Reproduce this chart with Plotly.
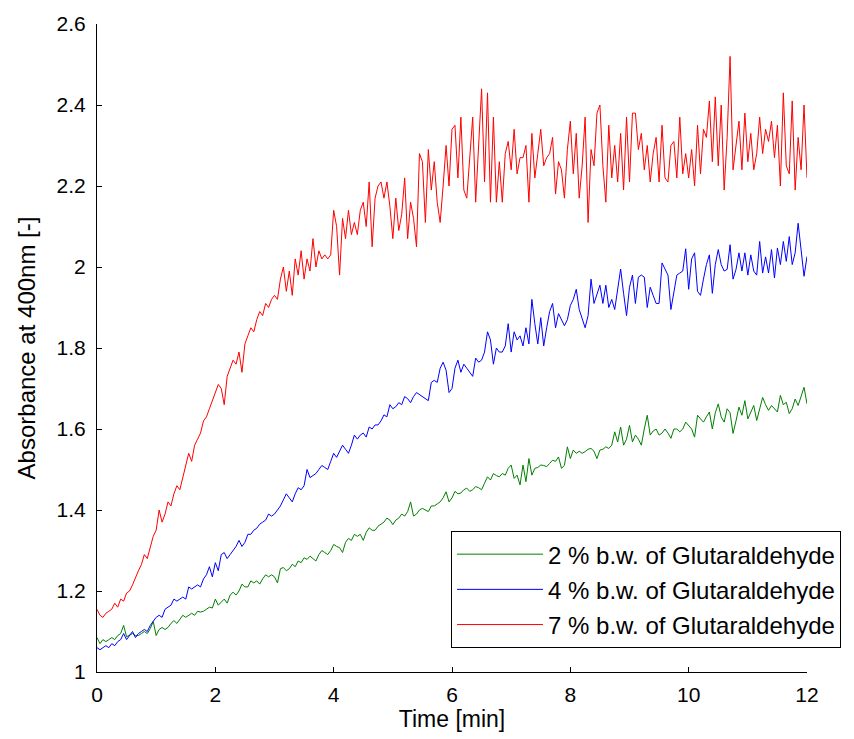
import numpy as np
import plotly.graph_objects as go

# Sampling: one reading every 0.05 min from 0 to 12 min
step_min = 0.05

series_names = [
    "2 % b.w. of Glutaraldehyde",
    "4 % b.w. of Glutaraldehyde",
    "7 % b.w. of Glutaraldehyde",
]
series_colors = ["#008000", "#0000FF", "#FF0000"]

absorbance_2pct = [
    1.085, 1.07, 1.08, 1.075, 1.08, 1.085, 1.08, 1.09, 1.095, 1.115, 1.087, 1.09, 1.095, 1.09, 1.09, 1.095, 1.10, 1.095, 1.107, 1.125,
    1.09, 1.105, 1.11, 1.105, 1.11, 1.12, 1.127, 1.12, 1.13, 1.14, 1.135, 1.14, 1.145, 1.14, 1.15, 1.148, 1.15, 1.155, 1.16, 1.158,
    1.18, 1.165, 1.172, 1.18, 1.17, 1.19, 1.197, 1.19, 1.20, 1.217, 1.21, 1.21, 1.225, 1.22, 1.225, 1.217, 1.23, 1.24, 1.235, 1.24,
    1.235, 1.22, 1.255, 1.258, 1.25, 1.255, 1.266, 1.26, 1.274, 1.27, 1.282, 1.278, 1.286, 1.28, 1.274, 1.29, 1.30, 1.295, 1.29, 1.30,
    1.315, 1.31, 1.307, 1.295, 1.32, 1.33, 1.325, 1.34, 1.335, 1.34, 1.325, 1.345, 1.356, 1.35, 1.35, 1.36, 1.364, 1.37, 1.38, 1.375,
    1.364, 1.375, 1.38, 1.39, 1.385, 1.396, 1.42, 1.385, 1.39, 1.40, 1.404, 1.40, 1.396, 1.41, 1.41, 1.415, 1.42, 1.43, 1.445, 1.42,
    1.43, 1.446, 1.44, 1.442, 1.45, 1.454, 1.446, 1.45, 1.458, 1.455, 1.45, 1.466, 1.482, 1.474, 1.49, 1.485, 1.482, 1.49, 1.486, 1.503,
    1.511, 1.478, 1.486, 1.462, 1.511, 1.47, 1.527, 1.486, 1.503, 1.505, 1.511, 1.51, 1.507, 1.515, 1.523, 1.52, 1.531, 1.503, 1.51, 1.556,
    1.527, 1.548, 1.54, 1.545, 1.54, 1.544, 1.55, 1.552, 1.545, 1.527, 1.548, 1.55, 1.556, 1.552, 1.56, 1.593, 1.568, 1.605, 1.56, 1.575,
    1.609, 1.568, 1.585, 1.575, 1.56, 1.60, 1.634, 1.585, 1.595, 1.60, 1.585, 1.59, 1.60, 1.59, 1.577, 1.60, 1.60, 1.593, 1.60, 1.617,
    1.609, 1.60, 1.58, 1.634, 1.625, 1.617, 1.63, 1.642, 1.60, 1.64, 1.662, 1.63, 1.617, 1.65, 1.64, 1.589, 1.62, 1.654, 1.634, 1.67,
    1.625, 1.64, 1.658, 1.621, 1.65, 1.678, 1.66, 1.646, 1.658, 1.65, 1.642, 1.683, 1.66, 1.666, 1.638, 1.65, 1.674, 1.658, 1.68, 1.703,
    1.662,
]

absorbance_4pct = [
    1.06, 1.055, 1.06, 1.065, 1.06, 1.07, 1.065, 1.075, 1.08, 1.095, 1.08, 1.09, 1.10, 1.085, 1.095, 1.10, 1.105, 1.10, 1.115, 1.125,
    1.135, 1.14, 1.135, 1.155, 1.16, 1.165, 1.18, 1.175, 1.18, 1.185, 1.18, 1.21, 1.205, 1.21, 1.215, 1.21, 1.23, 1.24, 1.26, 1.235,
    1.27, 1.25, 1.29, 1.295, 1.28, 1.29, 1.30, 1.31, 1.325, 1.31, 1.32, 1.34, 1.34, 1.35, 1.355, 1.365, 1.37, 1.375, 1.39, 1.385,
    1.39, 1.40, 1.41, 1.425, 1.44, 1.43, 1.42, 1.44, 1.455, 1.45, 1.46, 1.50, 1.48, 1.485, 1.49, 1.50, 1.51, 1.505, 1.50, 1.52,
    1.54, 1.53, 1.545, 1.56, 1.55, 1.54, 1.56, 1.585, 1.575, 1.585, 1.59, 1.58, 1.605, 1.60, 1.61, 1.61, 1.62, 1.635, 1.63, 1.66,
    1.65, 1.655, 1.665, 1.66, 1.68, 1.675, 1.665, 1.68, 1.69, 1.685, 1.68, 1.675, 1.67, 1.715, 1.72, 1.715, 1.75, 1.765, 1.745, 1.69,
    1.70, 1.75, 1.77, 1.74, 1.76, 1.75, 1.74, 1.73, 1.775, 1.765, 1.77, 1.79, 1.84, 1.82, 1.76, 1.80, 1.79, 1.79, 1.805, 1.86,
    1.79, 1.84, 1.82, 1.83, 1.805, 1.85, 1.81, 1.92, 1.86, 1.81, 1.875, 1.805, 1.85, 1.89, 1.91, 1.85, 1.885, 1.87, 1.855, 1.87,
    1.905, 1.92, 1.945, 1.895, 1.87, 1.85, 1.88, 1.97, 1.91, 1.93, 1.955, 1.91, 1.955, 1.90, 1.92, 1.895, 1.94, 1.995, 1.935, 1.88,
    1.95, 1.98, 1.91, 1.975, 1.98, 1.975, 1.90, 1.95, 1.93, 1.91, 1.91, 2.01, 1.995, 1.98, 1.895, 1.935, 1.98, 1.985, 1.99, 2.045,
    1.945, 2.02, 2.035, 1.94, 1.93, 1.97, 2.006, 2.03, 1.935, 2.006, 2.043, 2.006, 1.99, 1.994, 2.055, 1.97, 1.994, 2.035, 1.99, 2.035,
    1.98, 2.03, 1.99, 1.98, 2.063, 1.985, 2.025, 1.985, 2.043, 1.973, 2.047, 2.006, 2.063, 2.014, 2.075, 2.006, 2.035, 2.108, 2.05, 1.977,
    2.026,
]

absorbance_7pct = [
    1.155, 1.14, 1.135, 1.145, 1.15, 1.155, 1.17, 1.16, 1.18, 1.175, 1.195, 1.20, 1.215, 1.235, 1.25, 1.265, 1.29, 1.28, 1.31, 1.335,
    1.35, 1.40, 1.37, 1.39, 1.42, 1.41, 1.44, 1.46, 1.45, 1.48, 1.51, 1.54, 1.52, 1.56, 1.575, 1.59, 1.62, 1.63, 1.65, 1.67,
    1.69, 1.71, 1.70, 1.66, 1.73, 1.75, 1.77, 1.76, 1.79, 1.74, 1.81, 1.83, 1.85, 1.84, 1.87, 1.89, 1.88, 1.91, 1.90, 1.92,
    1.93, 1.92, 1.97, 2.00, 1.94, 1.99, 1.93, 2.02, 1.98, 2.04, 1.97, 2.02, 1.99, 2.07, 2.00, 2.04, 2.02, 2.03, 2.02, 2.03,
    2.14, 2.10, 1.98, 2.12, 2.07, 2.14, 2.08, 2.11, 2.08, 2.14, 2.16, 2.10, 2.21, 2.05, 2.17, 2.20, 2.21, 2.17, 2.21, 2.15,
    2.07, 2.17, 2.09, 2.13, 2.22, 2.07, 2.16, 2.12, 2.05, 2.28, 2.26, 2.11, 2.29, 2.19, 2.26, 2.16, 2.11, 2.20, 2.30, 2.20,
    2.34, 2.35, 2.22, 2.37, 2.19, 2.17, 2.28, 2.37, 2.16, 2.30, 2.44, 2.21, 2.43, 2.16, 2.37, 2.16, 2.26, 2.16, 2.28, 2.31,
    2.24, 2.34, 2.23, 2.27, 2.27, 2.30, 2.16, 2.33, 2.22, 2.28, 2.34, 2.25, 2.27, 2.28, 2.32, 2.18, 2.26, 2.24, 2.17, 2.29,
    2.36, 2.23, 2.33, 2.17, 2.25, 2.37, 2.11, 2.29, 2.25, 2.38, 2.40, 2.25, 2.16, 2.35, 2.22, 2.30, 2.21, 2.33, 2.19, 2.37,
    2.21, 2.38, 2.38, 2.29, 2.33, 2.24, 2.30, 2.21, 2.28, 2.32, 2.21, 2.35, 2.22, 2.21, 2.30, 2.31, 2.22, 2.37, 2.23, 2.28,
    2.22, 2.29, 2.20, 2.35, 2.23, 2.34, 2.32, 2.41, 2.26, 2.42, 2.25, 2.40, 2.19, 2.32, 2.52, 2.24, 2.30, 2.36, 2.24, 2.38,
    2.26, 2.33, 2.24, 2.28, 2.37, 2.28, 2.34, 2.31, 2.36, 2.27, 2.35, 2.20, 2.43, 2.25, 2.23, 2.41, 2.19, 2.32, 2.24, 2.40,
    2.22,
]

x_tick_vals = [0, 2, 4, 6, 8, 10, 12]
x_tick_text = ["0", "2", "4", "6", "8", "10", "12"]
y_tick_vals = [1, 1.2, 1.4, 1.6, 1.8, 2, 2.2, 2.4, 2.6]
y_tick_text = ["1", "1.2", "1.4", "1.6", "1.8", "2", "2.2", "2.4", "2.6"]

all_series = [absorbance_2pct, absorbance_4pct, absorbance_7pct]
for s in all_series:
    assert len(s) == 241, len(s)
time_min = np.round(np.arange(len(absorbance_2pct)) * step_min, 4)

fig = go.Figure()
for i, (name, color, ys) in enumerate(zip(series_names, series_colors, all_series)):
    fig.add_trace(go.Scatter(
        x=time_min, y=ys, mode="lines", name=name,
        legendgroup=f"g{i}",
        line=dict(color=color, width=1),
    ))

FONT = "Liberation Sans, Arial, sans-serif"
axis_common = dict(
    showline=True, linecolor="black", linewidth=1, mirror=False,
    ticks="inside", ticklen=5, tickcolor="black", tickwidth=1,
    showgrid=False, zeroline=False,
    tickfont=dict(family=FONT, size=21, color="black"),
)

fig.update_layout(
    width=854, height=739,
    margin=dict(l=97, r=47, t=19, b=67),
    paper_bgcolor="white", plot_bgcolor="white",
    font=dict(family=FONT, color="black"),
    xaxis=dict(
        range=[0, 12], tickvals=x_tick_vals, ticktext=x_tick_text,
        title=dict(text="Time [min]", font=dict(family=FONT, size=23), standoff=5),
        ticklabelstandoff=4,
        **axis_common,
    ),
    yaxis=dict(
        range=[1, 2.6], tickvals=y_tick_vals, ticktext=y_tick_text,
        title=dict(text="Absorbance at 400nm [-]", font=dict(family=FONT, size=24), standoff=14),
        ticklabelstandoff=6,
        **axis_common,
    ),
    showlegend=True,
    legend=dict(
        x=0.4986, y=0.2175, xanchor="left", yanchor="top",
        bgcolor="white", bordercolor="black", borderwidth=1,
        font=dict(family=FONT, size=24, color="black"),
        itemwidth=86,
        tracegroupgap=1,
    ),
)

fig.write_html("out.html")
